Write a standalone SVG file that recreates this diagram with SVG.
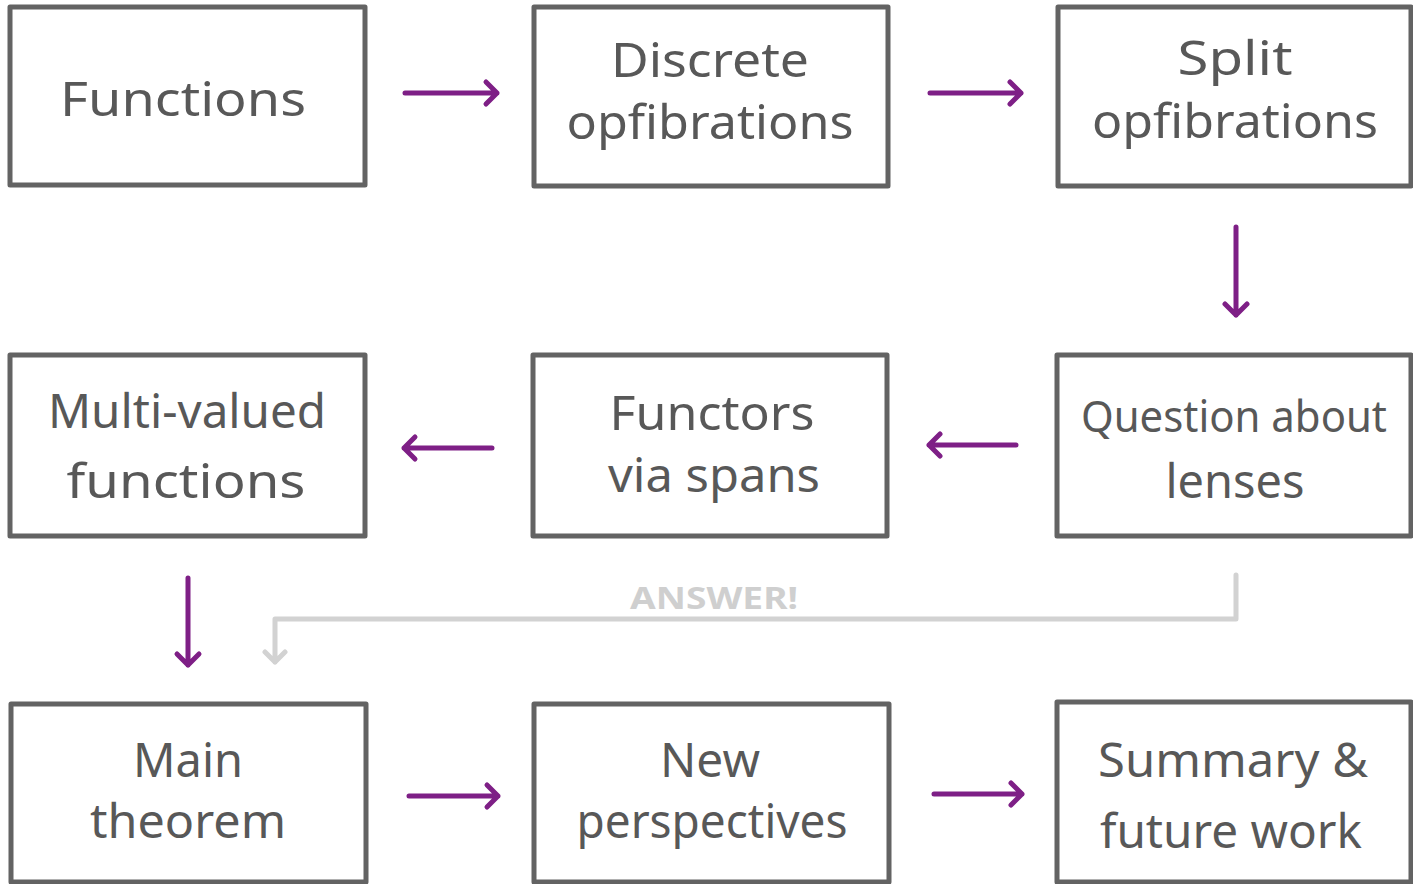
<svg xmlns="http://www.w3.org/2000/svg" width="1413" height="884" viewBox="0 0 1413 884">
  <defs>
    <style>
      .box { fill: #ffffff; stroke: #636363; stroke-width: 5; stroke-linejoin: round; }
      .lbl { font-family: "Noto Sans", "Liberation Sans", sans-serif; font-size: 47px; fill: #585858; text-anchor: middle; }
      .lbl-sm { font-size: 44px; }
      .flow { fill: none; stroke: #7e1f86; stroke-width: 5; stroke-linecap: round; stroke-linejoin: round; }
      .answer { fill: none; stroke: #d2d2d2; stroke-width: 5; stroke-linecap: round; stroke-linejoin: round; }
      .answer-lbl { font-family: "Noto Sans", "Liberation Sans", sans-serif; font-size: 30px; font-weight: bold; fill: #cfcfcf; text-anchor: middle; }
    </style>
  </defs>

  <rect width="1413" height="884" fill="#ffffff"/>

  <!-- connectors: shaft plus open chevron head -->
  <g id="connectors">
    <path class="flow" d="M405,93 H497 M486,82 L497,93 L486,104"/>
    <path class="flow" d="M930,93 H1021 M1010,82 L1021,93 L1010,104"/>
    <path class="flow" d="M1236,227 V315 M1225,304 L1236,315 L1247,304"/>
    <path class="flow" d="M1016,445 H929 M940,434 L929,445 L940,456"/>
    <path class="flow" d="M492,448 H404 M415,437 L404,448 L415,459"/>
    <path class="flow" d="M188,578 V665 M177,654 L188,665 L199,654"/>
    <path class="flow" d="M409,796 H498 M487,785 L498,796 L487,807"/>
    <path class="flow" d="M934,794 H1022 M1011,783 L1022,794 L1011,805"/>
    <g id="answer">
      <path class="answer" d="M1236,575 V619 H275 V662 M265,652 L275,662 L285,652"/>
      <text class="answer-lbl" x="714" y="609" textLength="168" lengthAdjust="spacingAndGlyphs">ANSWER!</text>
    </g>
  </g>

  <!-- row 1 -->
  <g id="functions">
    <rect class="box" x="10" y="7" width="355" height="178"/>
    <text class="lbl" x="183" y="116" textLength="246" lengthAdjust="spacingAndGlyphs">Functions</text>
  </g>
  <g id="discrete-opfibrations">
    <rect class="box" x="534" y="7" width="354" height="179"/>
    <text class="lbl" x="710" y="77" textLength="198" lengthAdjust="spacingAndGlyphs">Discrete</text>
    <text class="lbl" x="710" y="139" textLength="287" lengthAdjust="spacingAndGlyphs">opfibrations</text>
  </g>
  <g id="split-opfibrations">
    <rect class="box" x="1058" y="7" width="353" height="179"/>
    <text class="lbl" x="1235" y="75" textLength="115" lengthAdjust="spacingAndGlyphs">Split</text>
    <text class="lbl" x="1235" y="138" textLength="286" lengthAdjust="spacingAndGlyphs">opfibrations</text>
  </g>

  <!-- row 2 -->
  <g id="multi-valued-functions">
    <rect class="box" x="10" y="355" width="355" height="181"/>
    <text class="lbl" x="187" y="428" textLength="278" lengthAdjust="spacingAndGlyphs">Multi-valued</text>
    <text class="lbl" x="186" y="498" textLength="239" lengthAdjust="spacingAndGlyphs">functions</text>
  </g>
  <g id="functors-via-spans">
    <rect class="box" x="533" y="355" width="354" height="181"/>
    <text class="lbl" x="712" y="430" textLength="205" lengthAdjust="spacingAndGlyphs">Functors</text>
    <text class="lbl" x="714" y="492" textLength="212" lengthAdjust="spacingAndGlyphs">via spans</text>
  </g>
  <g id="question-about-lenses">
    <rect class="box" x="1057" y="355" width="354" height="181"/>
    <text class="lbl lbl-sm" x="1234" y="432" textLength="306" lengthAdjust="spacingAndGlyphs">Question about</text>
    <text class="lbl" x="1235" y="498" textLength="139" lengthAdjust="spacingAndGlyphs">lenses</text>
  </g>

  <!-- row 3 -->
  <g id="main-theorem">
    <rect class="box" x="11" y="704" width="355" height="178"/>
    <text class="lbl" x="188" y="777" textLength="110" lengthAdjust="spacingAndGlyphs">Main</text>
    <text class="lbl" x="188" y="838" textLength="196" lengthAdjust="spacingAndGlyphs">theorem</text>
  </g>
  <g id="new-perspectives">
    <rect class="box" x="534" y="704" width="355" height="178"/>
    <text class="lbl" x="710" y="777" textLength="100" lengthAdjust="spacingAndGlyphs">New</text>
    <text class="lbl" x="712" y="838" textLength="271" lengthAdjust="spacingAndGlyphs">perspectives</text>
  </g>
  <g id="summary-future-work">
    <rect class="box" x="1057" y="702" width="354" height="180"/>
    <text class="lbl" x="1233" y="777" textLength="270" lengthAdjust="spacingAndGlyphs">Summary &amp;</text>
    <text class="lbl" x="1231" y="848" textLength="262" lengthAdjust="spacingAndGlyphs">future work</text>
  </g>
</svg>
